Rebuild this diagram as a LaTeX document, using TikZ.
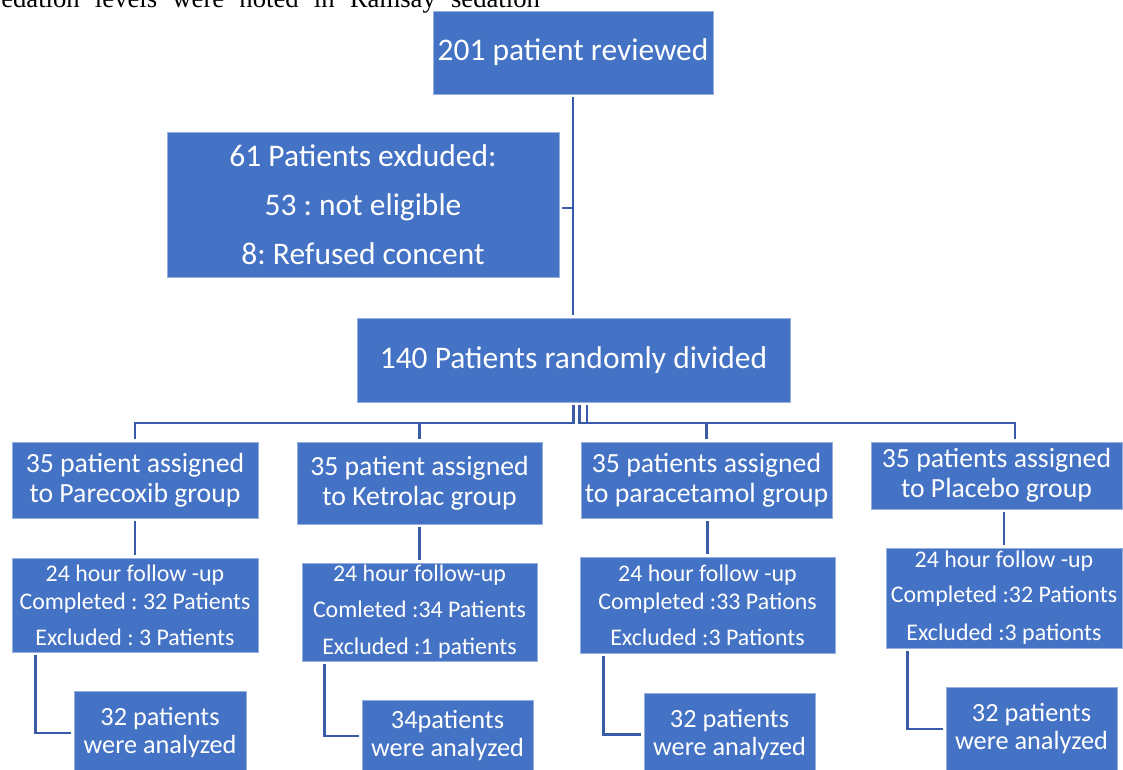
\documentclass[tikz,border=0pt]{standalone}
\usepackage{fontspec}
\setmainfont{Carlito}
\newfontfamily\pageserif{Liberation Serif}
\definecolor{boxblue}{RGB}{68,114,196}
\definecolor{boxedge}{RGB}{150,176,222}
\definecolor{linkblue}{RGB}{58,92,168}
\frenchspacing

\begin{document}
\begin{tikzpicture}
        [x = 0.75pt, y = -0.75pt,
            blue box/.style = {rectangle, fill=boxblue, draw=boxedge, line width=0.6pt,
                text=white, inner sep=0pt, align=center},
            main node/.style = {blue box, font=\fontsize{23.6}{28}\selectfont},
            group node/.style = {blue box, font=\fontsize{20.8}{22.5}\selectfont},
            check node/.style = {blue box, font=\fontsize{17.9}{21}\selectfont},
            result node/.style = {blue box, font=\fontsize{19.7}{21}\selectfont},
            link/.style = {draw=linkblue, line width=1.8pt, shorten > = 2pt, shorten < = 2pt}]

        \clip (0,0) rectangle (1123,769);
        \fill[white] (0,0) rectangle (1123,769);

        \node[anchor=base west, inner sep=0pt, font=\pageserif\fontsize{20}{22}\selectfont] (T) at (1,7)
            {\makebox[404pt][s]{edation levels were noted in Ramsay sedation}};

        \node[main node, minimum width=210pt, minimum height=62.25pt] (R) at (573,52.5) {201 patient reviewed};
        \node[main node, minimum width=294pt, minimum height=108.75pt,
            font=\fontsize{23.6}{36.75}\selectfont] (E) at (363,204.5)
            {61 Patients exduded:\\53 : not eligible\\8: Refused concent};
        \node[main node, minimum width=324.75pt, minimum height=63pt] (D) at (573.5,360) {140 Patients randomly divided};

        \node[group node, minimum width=184.5pt, minimum height=57pt] (G1) at (135,480) {35 patient assigned\\to Parecoxib group};
        \node[group node, minimum width=183.75pt, minimum height=61.5pt] (G2) at (419.5,483) {35 patient assigned\\to Ketrolac group};
        \node[group node, minimum width=188.25pt, minimum height=57pt] (G3) at (706.5,480) {35 patients assigned\\to paracetamol group};
        \node[group node, minimum width=188.25pt, minimum height=50.25pt] (G4) at (996.5,475.5) {35 patients assigned\\to Placebo group};

        \node[check node, minimum width=184.5pt, minimum height=70.5pt] (F1) at (135,605)
            {24 hour follow -up\\Completed : 32 Patients\\[6pt]Excluded : 3 Patients};
        \node[check node, minimum width=176.25pt, minimum height=73.5pt] (F2) at (419.5,612)
            {24 hour follow-up\\[6pt]Comleted :34 Patients\\[6.75pt]Excluded :1 patients};
        \node[check node, minimum width=191.25pt, minimum height=72pt] (F3) at (707.5,605)
            {24 hour follow -up\\Completed :33 Pations\\[6pt]Excluded :3 Pationts};
        \node[check node, minimum width=177pt, minimum height=75pt] (F4) at (1004,598)
            {24 hour follow -up\\[5.25pt]Completed :32 Pationts\\[7.5pt]Excluded :3 pationts};

        \node[result node, minimum width=129pt, minimum height=63pt] (A1) at (160,733) {32 patients\\were analyzed};
        \node[result node, minimum width=128.25pt, minimum height=54pt] (A2) at (447.5,736) {34patients\\were analyzed};
        \node[result node, minimum width=128.25pt, minimum height=62.25pt] (A3) at (729.5,734.5) {32 patients\\were analyzed};
        \node[result node, minimum width=128.25pt, minimum height=63pt] (A4) at (1031.5,729) {32 patients\\were analyzed};

        \coordinate (bus) at (0,423);

        \draw[link] (R.south) -- (R.south |- D.north);
        \draw[link, shorten > = 0pt] ([yshift=-2.6pt]E.east) -- ([yshift=-2.6pt]E.east -| R.south);

        \draw[link] (D.south) -- (D.south |- bus) -| (G1.north);
        \draw[link] (D.south) -- (D.south |- bus) -| (G2.north);
        \draw[link] ([xshift=4.5pt]D.south) -- ([xshift=4.5pt]D.south |- bus) -| (G3.north);
        \draw[link] ([xshift=10pt]D.south) -- ([xshift=10pt]D.south |- bus) -| ([xshift=13.9pt]G4.north);

        \draw[link] (G1.south) -- (F1.north);
        \draw[link] (G2.south) -- (F2.north);
        \draw[link] (G3.south -| F3.north) -- (F3.north);
        \draw[link] (G4.south -| F4.north) -- (F4.north);

        \draw[link] ([xshift=18pt]F1.south west) |- (A1.west);
        \draw[link] ([xshift=17.25pt]F2.south west) |- (A2.west);
        \draw[link] ([xshift=18pt]F3.south west) |- (A3.west);
        \draw[link] ([xshift=16.5pt]F4.south west) |- (A4.west);
    \end{tikzpicture}
\end{document}
